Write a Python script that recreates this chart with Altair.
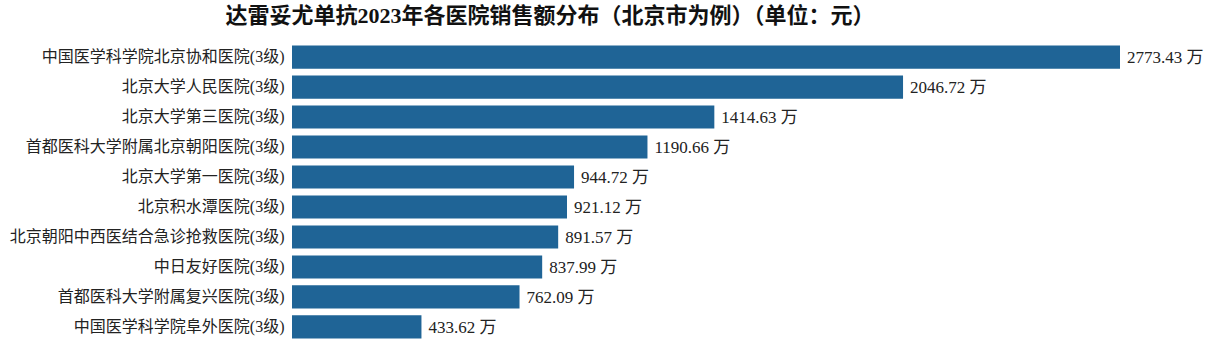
import altair as alt
import pandas as pd

hospitals = [
    "中国医学科学院北京协和医院(3级)",
    "北京大学人民医院(3级)",
    "北京大学第三医院(3级)",
    "首都医科大学附属北京朝阳医院(3级)",
    "北京大学第一医院(3级)",
    "北京积水潭医院(3级)",
    "北京朝阳中西医结合急诊抢救医院(3级)",
    "中日友好医院(3级)",
    "首都医科大学附属复兴医院(3级)",
    "中国医学科学院阜外医院(3级)",
]
sales = [2773.43, 2046.72, 1414.63, 1190.66, 944.72, 921.12, 891.57, 837.99, 762.09, 433.62]

df = pd.DataFrame({"hospital": hospitals, "sales": sales})
df["label"] = df["sales"].map(lambda v: f"{v:.2f} 万")

FONT = "Liberation Serif, Noto Sans CJK SC"

y_enc = alt.Y(
    "hospital:N",
    sort=hospitals,
    scale=alt.Scale(paddingInner=0.23, paddingOuter=0.12),
    axis=alt.Axis(
        title=None,
        domain=False,
        ticks=False,
        labelFont=FONT,
        labelFontSize=16,
        labelColor="#222222",
        labelPadding=8,
        labelLimit=400,
    ),
)
x_enc = alt.X(
    "sales:Q",
    scale=alt.Scale(domain=[0, 2773.43], nice=False, zero=True),
    axis=None,
)

bars = alt.Chart(df).mark_bar(color="#1F6496").encode(y=y_enc, x=x_enc)
labels = alt.Chart(df).mark_text(
    align="left", baseline="middle", dx=7, dy=1, font=FONT, fontSize=17, color="#222222"
).encode(y=alt.Y("hospital:N", sort=hospitals), x="sales:Q", text="label:N")

chart = (
    alt.layer(bars, labels)
    .properties(
        width=828,
        height=300,
        autosize=alt.AutoSizeParams(type="none"),
        padding={"left": 292, "top": 42, "right": 98, "bottom": 10},
        title=alt.TitleParams(
            "达雷妥尤单抗2023年各医院销售额分布（北京市为例）（单位：元）",
            anchor="middle",
            frame="group",
            dx=-156,
            offset=14,
            font=FONT,
            fontSize=22,
            fontWeight="bold",
            color="#111111",
        ),
    )
    .configure_view(stroke=None)
)

chart.save("out.html", embed_options={"renderer": "svg", "actions": False})
